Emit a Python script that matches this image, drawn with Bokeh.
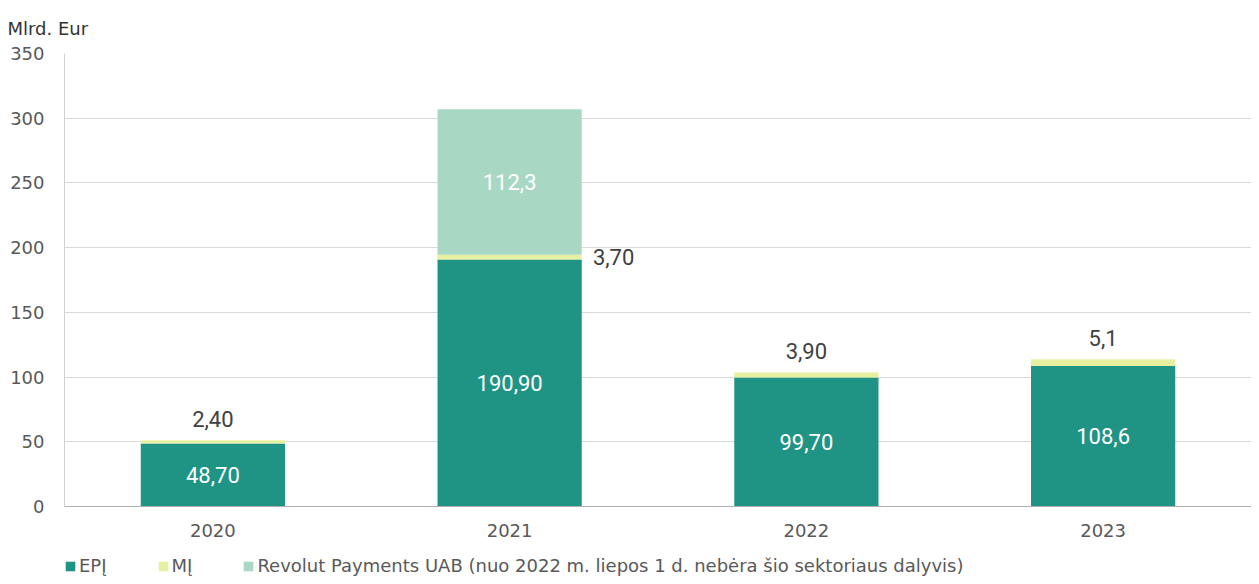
from bokeh.plotting import figure
from bokeh.layouts import column
from bokeh.models import ColumnDataSource, FactorRange, Legend, LegendItem, SingleIntervalTicker
from bokeh.core.properties import value
from bokeh.embed import file_html
from bokeh.resources import INLINE

years = ["2020", "2021", "2022", "2023"]
epi = [48.7, 190.9, 99.7, 108.6]
mi = [2.4, 3.7, 3.9, 5.1]
revolut = [0.0, 112.3, 0.0, 0.0]
epi_labels = ["48,70", "190,90", "99,70", "108,6"]
mi_labels = ["2,40", "3,70", "3,90", "5,1"]
rev_labels = ["", "112,3", "", ""]
series_names = ["EPĮ", "MĮ", "Revolut Payments UAB (nuo 2022 m. liepos 1 d. nebėra šio sektoriaus dalyvis)"]
colors = ["#1f9384", "#e6f0a0", "#a8d8c4"]

p = figure(x_range=FactorRange(*years, range_padding=0), y_range=(0, 350),
           width=1251, height=546, output_backend="svg", toolbar_location=None,
           min_border_left=64, min_border_right=0, min_border_top=53, min_border_bottom=40)
p.outline_line_color = None
p.background_fill_color = "white"

src = ColumnDataSource(dict(year=years, epi=epi, mi=mi, rev=revolut))
rs = p.vbar_stack(["epi", "mi", "rev"], x="year", width=0.486, source=src,
                  color=colors, line_color=None)

# Labels
font = value("Roboto")
epi_y = [v / 2 for v in epi]
p.text(x=years, y=epi_y, text=epi_labels, text_color="white", text_font=font,
       text_font_size="22px", text_align="center", text_baseline="middle")

rev_x = [y for y, r in zip(years, revolut) if r > 0]
rev_y = [e + m + r / 2 for e, m, r in zip(epi, mi, revolut) if r > 0]
rev_t = [t for t, r in zip(rev_labels, revolut) if r > 0]
p.text(x=rev_x, y=rev_y, text=rev_t, text_color="white", text_font=font,
       text_font_size="22px", text_align="center", text_baseline="middle")

mi_y, mi_xo, mi_yo = [], [], []
for e, m, r in zip(epi, mi, revolut):
    if r > 0:
        mi_y.append(e + m / 2); mi_xo.append(104); mi_yo.append(0)
    else:
        mi_y.append(e + m); mi_xo.append(0); mi_yo.append(-21)
msrc = ColumnDataSource(dict(x=years, y=mi_y, t=mi_labels, xo=mi_xo, yo=mi_yo))
p.text(x="x", y="y", text="t", x_offset="xo", y_offset="yo", source=msrc,
       text_color="#404040", text_font=font, text_font_size="22px",
       text_align="center", text_baseline="middle")

# Axes
p.yaxis.ticker = SingleIntervalTicker(interval=50)
for ax in (p.xaxis[0], p.yaxis[0]):
    ax.major_tick_line_color = None
    ax.minor_tick_line_color = None
    ax.major_label_text_font = "DejaVu Sans"
    ax.major_label_text_font_size = "18px"
    ax.major_label_text_color = "#595959"
p.yaxis.axis_line_color = "#d0d0d0"
p.xaxis.axis_line_color = "#b0b0b0"
p.yaxis.major_label_standoff = 14
p.xaxis.major_label_standoff = 11
p.xgrid.grid_line_color = None
p.ygrid.grid_line_color = "#d9d9d9"

p.title.text = "Mlrd. Eur"
p.title.text_font = "DejaVu Sans"
p.title.text_font_size = "18px"
p.title.text_font_style = "normal"
p.title.text_color = "#333333"
p.title.align = "left"
p.title.offset = -57
p.title.standoff = 30

# Legend strip below the chart
lg = figure(width=1251, height=30, output_backend="svg", toolbar_location=None,
            x_axis_type=None, y_axis_type=None, x_range=(0, 1), y_range=(0, 1),
            min_border_left=0, min_border_right=0, min_border_top=0, min_border_bottom=0)
lg.outline_line_color = None
lg.grid.grid_line_color = None
dummies = [lg.vbar(x=[-10], top=[0], width=0.1, color=c, line_color=None) for c in colors]
legend = Legend(items=[LegendItem(label=n, renderers=[r]) for n, r in zip(series_names, dummies)],
                orientation="horizontal", location=(0, 0))
legend.label_text_font = "DejaVu Sans"
legend.label_text_font_size = "18px"
legend.label_text_color = "#595959"
legend.glyph_width = 12
legend.glyph_height = 12
legend.label_standoff = 3
legend.spacing = 50
legend.padding = 0
legend.margin = 0
legend.border_line_color = None
legend.background_fill_alpha = 0
lg.add_layout(legend, "center")

open("out.html", "w").write(file_html(column(p, lg, spacing=0), INLINE))
